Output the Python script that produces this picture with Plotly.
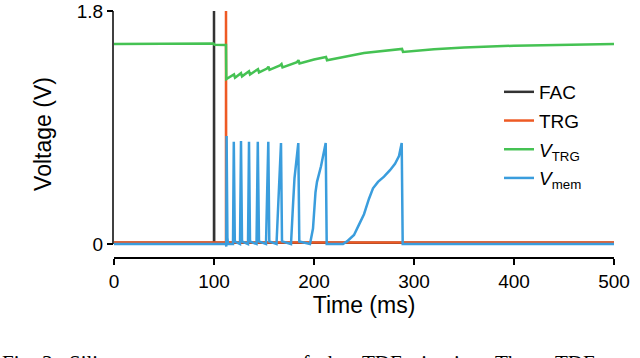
import plotly.graph_objects as go

# time (ms) / voltage (V)
fac_t = [0, 99.8, 100, 100, 100.2, 500]
fac_v = [0.01, 0.01, 0.01, 1.8, 0.01, 0.01]

trg_t = [0, 111.8, 112, 112, 112.2, 500]
trg_v = [0.012, 0.012, 0.012, 1.8, 0.012, 0.012]

vtrg_t = [0, 99.5, 100.5, 112, 112.3, 119, 120, 121, 126, 127, 128, 134, 135, 136,
          143, 144, 145, 153, 154.5, 155.5, 166, 167.5, 168.5, 183, 184.5, 185.5,
          200, 212, 213, 250, 288, 289, 320, 350, 400, 450, 500]
vtrg_v = [1.545, 1.548, 1.540, 1.538, 1.275, 1.30, 1.31, 1.285, 1.31, 1.32, 1.295, 1.325, 1.335, 1.31,
          1.34, 1.35, 1.325, 1.355, 1.37, 1.345, 1.38, 1.39, 1.365, 1.405, 1.42, 1.395,
          1.425, 1.445, 1.42, 1.475, 1.507, 1.484, 1.505, 1.518, 1.532, 1.54, 1.545]

vmem_t = [0, 112, 112.3, 112.6, 113.4, 114, 119, 119.8, 120.8, 126, 127, 128, 134, 135, 136,
          142.5, 143.8, 145, 152, 154.3, 155.3, 162.5, 164.5, 167, 168, 177, 179, 180.5,
          184.3, 185.3, 196, 199, 201.5, 203, 207, 211.7, 212.7, 229, 233, 240, 245, 250,
          255, 259, 264, 270, 276, 281, 285, 287.7, 288.7, 500]
vmem_v = [0.0, 0.0, -0.02, 0.835, 0.05, 0.0, 0.0, 0.79, 0.02, 0.0, 0.795, 0.02, 0.0, 0.79, 0.02,
          0.0, 0.79, 0.02, 0.0, 0.79, 0.02, 0.0, 0.35, 0.78, 0.02, 0.0, 0.3, 0.51,
          0.78, 0.02, 0.0, 0.12, 0.4, 0.48, 0.6, 0.78, 0.0, 0.0, 0.02, 0.07, 0.15, 0.23,
          0.35, 0.43, 0.48, 0.52, 0.57, 0.62, 0.68, 0.78, 0.0, 0.0]

x_ticks = [0, 100, 200, 300, 400, 500]
y_ticks = [0, 1.8]
y_tick_text = ["0", "1.8"]

# figure caption underneath, cut off by the crop (justified text, so words placed one by one)
caption_words = ["Fig.", "3.", "Silicon", "measurements", "of", "the", "TDE", "circuit.",
                 "The", "TDE", "receives"]
caption_left_px = [0, 40, 67, 148, 290, 320, 360, 410, 493, 553, 628]

font = "Liberation Sans, Arial, sans-serif"

fig = go.Figure()
fig.add_trace(go.Scatter(x=fac_t, y=fac_v, mode="lines", name="FAC", legendgroup="a",
                         line=dict(color="#333333", width=2.5)))
fig.add_trace(go.Scatter(x=trg_t, y=trg_v, mode="lines", name="TRG", legendgroup="b",
                         line=dict(color="#ee5a24", width=2.5)))
fig.add_trace(go.Scatter(x=vtrg_t, y=vtrg_v, mode="lines", name="<i>V</i><sub>TRG</sub>",
                         legendgroup="c", line=dict(color="#45c253", width=2.5)))
fig.add_trace(go.Scatter(x=vmem_t, y=vmem_v, mode="lines", name="<i>V</i><sub>mem</sub>",
                         legendgroup="d", line=dict(color="#3a9ddd", width=2.5)))

# y spine trimmed to the data range, as in the original
fig.add_shape(type="line", xref="paper", x0=-0.002, x1=-0.002, yref="y", y0=0, y1=1.8,
              line=dict(color="black", width=1.5))

for w, px in zip(caption_words, caption_left_px):
    fig.add_annotation(text=w, xref="paper", yref="paper", x=(px - 114) / 500, y=-0.372,
                       xanchor="left", yanchor="top", showarrow=False,
                       font=dict(family="Liberation Serif, serif", size=21, color="black"))

fig.update_xaxes(range=[0, 500], tickvals=x_ticks, ticks="outside", ticklen=6, tickwidth=1.5,
                 tickcolor="black", showline=True, linecolor="black", linewidth=1.5,
                 showgrid=False, zeroline=False, automargin=False,
                 title=dict(text="Time (ms)", standoff=6))
fig.update_yaxes(range=[-0.1004, 1.8], tickvals=y_ticks, ticktext=y_tick_text, ticks="outside",
                 ticklen=6, tickwidth=1.5, tickcolor="black", showline=False,
                 showgrid=False, zeroline=False, automargin=False,
                 title=dict(text="Voltage (V)", standoff=18))

fig.update_layout(width=640, height=358, margin=dict(l=114, r=26, t=11, b=101),
                  paper_bgcolor="white", plot_bgcolor="white",
                  font=dict(family=font, size=19, color="black"),
                  legend=dict(x=0.77, y=0.496, xanchor="left", yanchor="middle",
                              bgcolor="rgba(0,0,0,0)", tracegroupgap=1,
                              font=dict(size=19)))

fig.write_html("out.html", config={"displayModeBar": False},
               post_script="document.body.style.margin='0px';")
